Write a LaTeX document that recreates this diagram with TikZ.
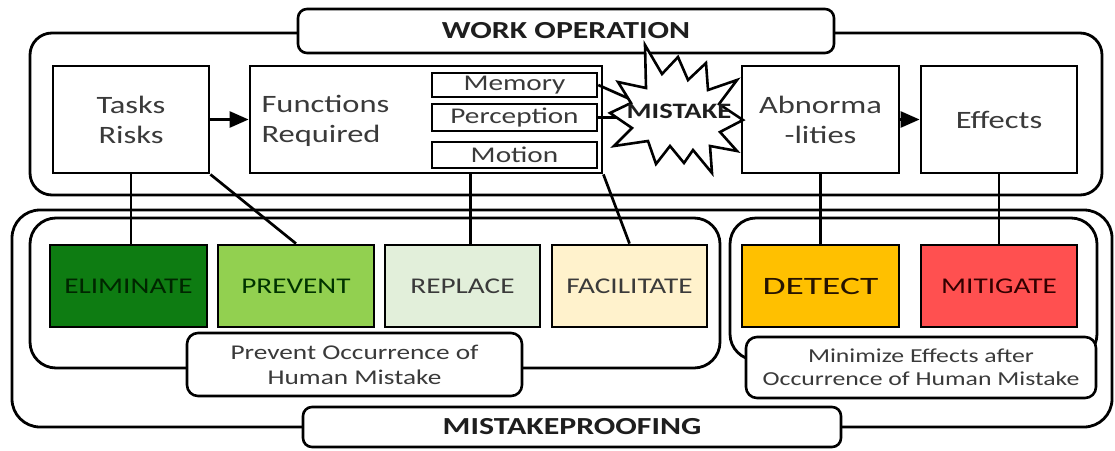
\documentclass[tikz,border=0pt]{standalone}
\usepackage{fontspec}
\setmainfont[FakeStretch=1.3]{Carlito}
\newfontfamily\widefont[FakeStretch=1.5]{Carlito}
\usetikzlibrary{arrows.meta}
\definecolor{elimc}{HTML}{0E7C12}
\definecolor{prevc}{HTML}{92D050}
\definecolor{replc}{HTML}{E2EFDA}
\definecolor{facic}{HTML}{FFF2CC}
\definecolor{detec}{HTML}{FFC000}
\definecolor{mitic}{HTML}{FF5050}
\definecolor{txt}{HTML}{3A3A3A}
\definecolor{hdr}{HTML}{1E1E1E}
\begin{document}
\begin{tikzpicture}[x=1pt,y=-1pt,
  sz/.style 2 args={minimum width=#1, minimum height=#2},
  grpframe/.style={draw, line width=2.8pt, inner sep=0pt, rounded corners=#1},
  wbox/.style={draw, line width=2.8pt, fill=white, inner sep=0pt, align=center, text=txt, font=\fontsize{25}{30}\selectfont},
  subbox/.style={draw, line width=2.5pt, fill=white, inner sep=0pt, text=txt, font=\fontsize{22.5}{27}\selectfont},
  cbox/.style={draw, line width=2.8pt, inner sep=0pt, text=txt, font=\fontsize{22.5}{27}\selectfont},
  titlebox/.style={draw, line width=2.6pt, fill=white, rounded corners=9pt, inner sep=0pt, text=hdr, font=\bfseries\fontsize{24.5}{29}\selectfont},
  notebox/.style={draw, line width=2.6pt, fill=white, rounded corners=11pt, inner sep=0pt, align=center, text=txt},
  conn/.style={line width=2.7pt},
  arrline/.style={line width=2.7pt, -{Triangle[length=19pt,width=16pt]}},
]
\useasboundingbox (0,0) rectangle (1115,450);
% group frames
\node[grpframe=22pt, sz={1072pt}{162pt}] (wo) at (566,114) {};
\node[grpframe=28pt, sz={1100pt}{217pt}] (mp) at (562,318.5) {};
\node[grpframe=26pt, sz={690pt}{150pt}] (grpL) at (375,293) {};
\node[grpframe=26pt, sz={367pt}{142pt}] (grpR) at (913.5,289) {};
% titles
\node[titlebox, sz={536pt}{44pt}] (wotitle) at (566,31) {WORK OPERATION};
\node[titlebox, sz={538pt}{40pt}] (mptitle) at (572,427) {MISTAKEPROOFING};
% notes
\node[notebox, sz={335pt}{63pt}, font=\fontsize{21}{25}\selectfont] (noteL) at (354.5,364.5) {Prevent Occurrence of\\Human Mistake};
\node[notebox, sz={350pt}{61pt}, font=\fontsize{19.8}{23}\selectfont] (noteR) at (921,367.5) {Minimize Effects after\\Occurrence of Human Mistake};
% work operation boxes
\node[wbox, sz={156pt}{107pt}] (tasks) at (131,119.5) {Tasks\\Risks};
\node[wbox, sz={352pt}{107pt}] (func) at (426,119.5) {};
\node[anchor=west, align=left, text=txt, font=\fontsize{25}{30}\selectfont] (functxt) at (258,121) {Functions\\Required};
\node[subbox, sz={165pt}{24pt}] (mem) at (514.5,85) {Memory};
\node[subbox, sz={165pt}{27pt}] (per) at (514.5,117.5) {Perception};
\node[subbox, sz={165pt}{26pt}] (mot) at (514.5,155) {Motion};
\node[wbox, sz={157pt}{107pt}] (abn) at (820.5,119.5) {Abnorma\\-lities};
\node[wbox, sz={156pt}{107pt}] (eff) at (999,119.5) {Effects};
% coloured boxes
\node[cbox, fill=elimc, text=black!85!green, sz={157pt}{82pt}] (elimbox) at (128.5,286) {ELIMINATE};
\node[cbox, fill=prevc, text=black!80!green, sz={156pt}{82pt}] (prevbox) at (296,286) {PREVENT};
\node[cbox, fill=replc, sz={155pt}{82pt}] (replbox) at (462.5,286) {REPLACE};
\node[cbox, fill=facic, sz={155pt}{82pt}] (facibox) at (629.5,286) {FACILITATE};
\node[cbox, fill=detec, text=black!85!orange, font=\widefont\fontsize{25}{30}\selectfont, sz={157pt}{82pt}] (detebox) at (820.5,286) {DETECT};
\node[cbox, fill=mitic, text=black!80!red, sz={156pt}{82pt}] (mitibox) at (999,286) {MITIGATE};
% connectors
\draw[arrline] (tasks) -- (func);
\draw[arrline] (abn) -- (eff);
\draw[conn] (tasks.south) -- (tasks.south |- elimbox.north);
\draw[conn] (tasks.south east) -- (prevbox.north);
\draw[conn] ([xshift=8pt]replbox.north) -- ([xshift=8pt]replbox.north |- func.south);
\draw[conn] (func.south east) -- (facibox.north);
\draw[conn] (abn.south) -- (detebox.north);
\draw[conn] (eff.south) -- (mitibox.north);
\coordinate (memend) at (632,100);
\coordinate (perend) at (624,117.5);
\draw[conn] (mem.east) -- (memend);
\draw[conn] (per.east) -- (perend);
% mistake starburst
\draw[line width=2.6pt, fill=white, line join=miter]
  (645,45) -- (662,74) -- (678,57) -- (688,80) -- (706,63) -- (708,90) -- (737,80) -- (719,104)
  -- (743,120) -- (720,132) -- (737,151) -- (710,146) -- (712,173) -- (693,150) -- (684,163)
  -- (670,146) -- (656,164) -- (648,141) -- (614,146) -- (632,128) -- (610,113) -- (631,103)
  -- (618,82) -- (646,88) -- cycle;
\node[text=hdr, font=\bfseries\fontsize{22}{26}\selectfont] (mistake) at (679,111) {MISTAKE};
\end{tikzpicture}
\end{document}
